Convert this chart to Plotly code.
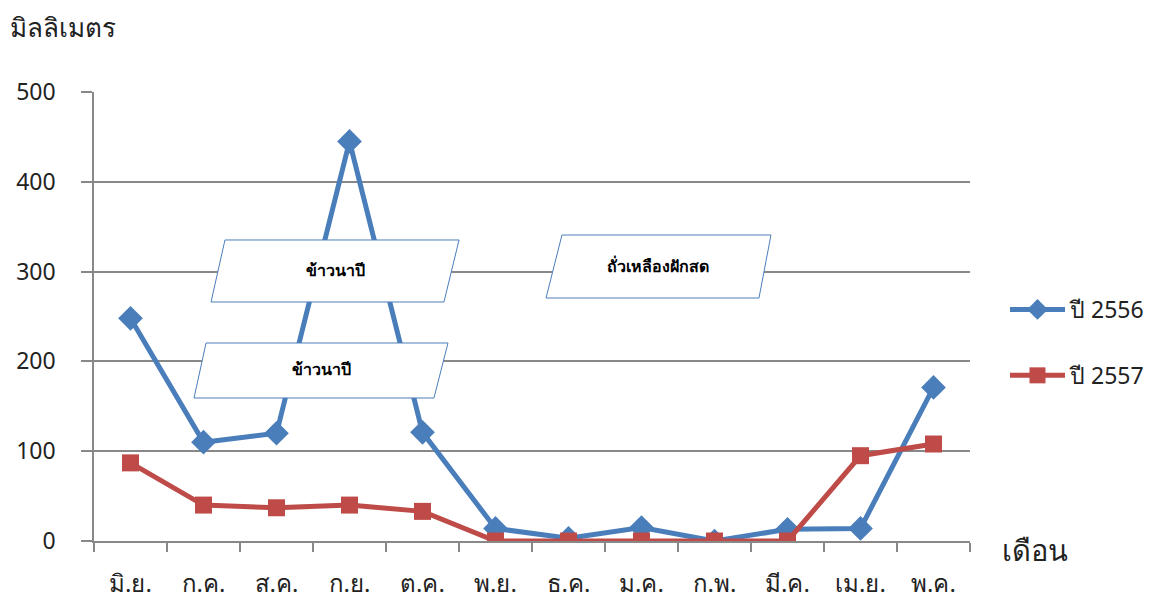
import plotly.graph_objects as go

months = ["มิ.ย.", "ก.ค.", "ส.ค.", "ก.ย.", "ต.ค.", "พ.ย.", "ธ.ค.", "ม.ค.", "ก.พ.", "มี.ค.", "เม.ย.", "พ.ค."]
rain_2556 = [248, 110, 120, 445, 121, 14, 3, 15, 0, 13, 14, 171]
rain_2557 = [87, 40, 37, 40, 33, 0, 0, 0, 0, 0, 95, 108]
series_names = ["ปี 2556", "ปี 2557"]
y_ticks = [0, 100, 200, 300, 400, 500]

OFF = 8  # page body margin
W, H = 1156 - OFF, 603 - OFF
L, R, T, B = 94, 970, 92, 541  # page-pixel plot area

def px(x):
    return (x - L) / (R - L)

def py(y):
    return (B - y) / (B - T)

FONT = "Noto Sans, DejaVu Sans, sans-serif"
BLUE = "#4A7EBB"
RED = "#BE4B48"

fig = go.Figure()
fig.add_trace(go.Scatter(
    x=months, y=rain_2556, name=series_names[0], mode="lines+markers",
    line=dict(color=BLUE, width=5),
    marker=dict(symbol="diamond", size=19, color=BLUE),
    legendgroup="a",
))
fig.add_trace(go.Scatter(
    x=months, y=rain_2557, name=series_names[1], mode="lines+markers",
    line=dict(color=RED, width=5),
    marker=dict(symbol="square", size=17, color=RED),
    legendgroup="b",
))

boxes = [
    ([(225, 240), (459, 240), (444, 302), (211, 302)], "ข้าวนาปี"),
    ([(206, 343), (448, 343), (434, 398), (194, 398)], "ข้าวนาปี"),
    ([(562, 235), (771, 235), (759, 298), (546, 298)], "ถั่วเหลืองฝักสด"),
]
for pts, label in boxes:
    path = "M " + " L ".join(f"{px(x):.4f},{py(y):.4f}" for x, y in pts) + " Z"
    fig.add_shape(type="path", path=path, xref="paper", yref="paper",
                  line=dict(color="#4A7EBB", width=1), fillcolor="white", layer="above",
                  label=dict(text=f"<b>{label}</b>", textposition="middle center",
                             font=dict(size=16, color="black", family=FONT)))

fig.add_annotation(x=px(8), y=py(27), xref="paper", yref="paper", text="มิลลิเมตร",
                   showarrow=False, xanchor="left", yanchor="middle",
                   font=dict(size=26, color="#222", family=FONT))
fig.add_annotation(x=px(1000), y=py(549), xref="paper", yref="paper", text="เดือน",
                   showarrow=False, xanchor="left", yanchor="middle",
                   font=dict(size=29, color="#222", family=FONT))

fig.update_layout(
    width=W, height=H,
    margin=dict(l=L - OFF, r=W - (R - OFF), t=T - OFF, b=H - (B - OFF), autoexpand=False),
    plot_bgcolor="white", paper_bgcolor="white",
    font=dict(family=FONT, size=23, color="#222"),
    showlegend=True,
    legend=dict(xref="container", yref="container",
                x=(1005 - OFF) / W, y=1 - (288 - OFF) / H, xanchor="left", yanchor="top",
                font=dict(size=23, color="#222"), itemwidth=55, tracegroupgap=33,
                bgcolor="rgba(0,0,0,0)"),
    xaxis=dict(
        type="category", range=[-0.5, 11.5], tickson="boundaries",
        ticks="outside", ticklen=9, tickwidth=1.5, tickcolor="#888",
        showline=True, linecolor="#888", linewidth=1.5, showgrid=False, automargin=False,
        tickfont=dict(size=24, color="#222"), zeroline=False, ticklabelstandoff=20,
    ),
    yaxis=dict(
        range=[0, 500], tickvals=y_ticks, ticks="outside", ticklen=11, tickwidth=1.5,
        tickcolor="#888", showline=True, linecolor="#888", linewidth=1.5, automargin=False,
        showgrid=True, gridcolor="#888", gridwidth=1.5, zeroline=False,
        tickfont=dict(size=23, color="#222"), ticklabelstandoff=21,
    ),
)

fig.write_html("out.html")
